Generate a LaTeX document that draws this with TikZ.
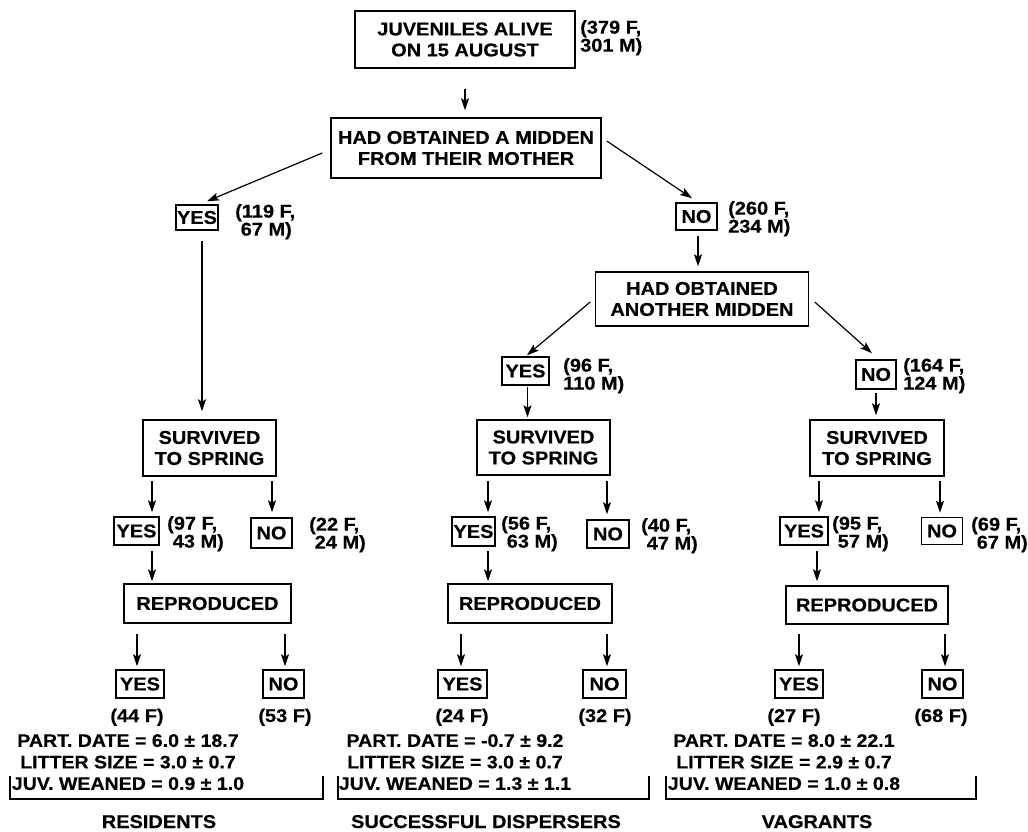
\documentclass[tikz,border=0pt]{standalone}
\usepackage{fontspec}
\setmainfont[FakeStretch=1.08, BoldFeatures={FakeBold=0.4}]{Liberation Sans}
\usetikzlibrary{arrows.meta,calc}
\tikzset{
  fnt/.style={font=\bfseries\fontsize{18.5}{21}\selectfont},
  box/.style={draw, line width=1.5pt, inner sep=0pt, align=center, fnt},
  cnt/.style={inner sep=0pt, align=left, anchor=north west, font=\bfseries\fontsize{18.5}{18}\selectfont},
  one/.style={inner sep=0pt, anchor=base, fnt},
  stats/.style={inner sep=0pt, anchor=north, align=center, font=\bfseries\fontsize{18.1}{21.5}\selectfont},
  arr/.style={-{Stealth[length=12pt,width=8pt,inset=2.5pt]}, line width=1.2pt},
  brk/.style={line width=1.4pt},
}
\begin{document}
\begin{tikzpicture}[x=1pt,y=-1pt]
\useasboundingbox (0,0) rectangle (1028,832);
% boxes
\node[box, minimum width=220pt, minimum height=57pt] (top) at (465,39.5) {JUVENILES ALIVE\\ON 15 AUGUST};
\node[box, minimum width=270pt, minimum height=60pt] (mother) at (466,148) {HAD OBTAINED A MIDDEN\\FROM THEIR MOTHER};
\node[box, minimum width=42pt, minimum height=25pt] (yes1) at (197,217.5) {YES};
\node[box, minimum width=41pt, minimum height=27pt] (no1) at (696.5,216.5) {NO};
\node[box, minimum width=213pt, minimum height=54pt] (another) at (702,299) {HAD OBTAINED\\ANOTHER MIDDEN};
\node[box, minimum width=47pt, minimum height=28pt] (yes2) at (525.5,371) {YES};
\node[box, minimum width=40pt, minimum height=29pt] (no2) at (876,374.5) {NO};
\node[box, minimum width=133pt, minimum height=56pt] (survL) at (209.5,448) {SURVIVED\\TO SPRING};
\node[box, minimum width=133pt, minimum height=55pt] (survM) at (543.5,447.5) {SURVIVED\\TO SPRING};
\node[box, minimum width=134pt, minimum height=56pt] (survR) at (877,448) {SURVIVED\\TO SPRING};
\node[box, minimum width=45pt, minimum height=28pt] (yesL) at (136.5,531) {YES};
\node[box, minimum width=41pt, minimum height=30pt] (noL) at (271.5,533) {NO};
\node[box, minimum width=43pt, minimum height=29pt] (yesM) at (473.5,531.5) {YES};
\node[box, minimum width=42pt, minimum height=28pt] (noM) at (608,534) {NO};
\node[box, minimum width=48pt, minimum height=28pt] (yesR) at (804,531) {YES};
\node[box, minimum width=41pt, minimum height=27pt] (noR) at (942,531) {NO};
\node[box, minimum width=167pt, minimum height=39pt] (repL) at (207.5,603.5) {REPRODUCED};
\node[box, minimum width=164pt, minimum height=39pt] (repM) at (530,603.5) {REPRODUCED};
\node[box, minimum width=162pt, minimum height=38pt] (repR) at (867,605) {REPRODUCED};
\node[box, minimum width=48pt, minimum height=28pt] (byL) at (140,684) {YES};
\node[box, minimum width=41pt, minimum height=28pt] (bnL) at (283.5,684) {NO};
\node[box, minimum width=49pt, minimum height=28pt] (byM) at (462.5,684) {YES};
\node[box, minimum width=43pt, minimum height=28pt] (bnM) at (604.5,684) {NO};
\node[box, minimum width=48pt, minimum height=28pt] (byR) at (799,684) {YES};
\node[box, minimum width=41pt, minimum height=28pt] (bnR) at (942.5,684) {NO};
% count labels
\node[cnt] (cTop) at (580,20) {(379 F,\\301 M)};
\node[cnt] (cYes1) at (235,204) {(119 F,\\\ 67 M)};
\node[cnt] (cNo1) at (728,201) {(260 F,\\234 M)};
\node[cnt] (cYes2) at (563,358) {(96 F,\\110 M)};
\node[cnt] (cNo2) at (903,358) {(164 F,\\124 M)};
\node[cnt] (cYesL) at (167,516) {(97 F,\\\ 43 M)};
\node[cnt] (cNoL) at (309,517) {(22 F,\\\ 24 M)};
\node[cnt] (cYesM) at (501,516) {(56 F,\\\ 63 M)};
\node[cnt] (cNoM) at (641,518) {(40 F,\\\ 47 M)};
\node[cnt] (cYesR) at (832,516) {(95 F,\\\ 57 M)};
\node[cnt] (cNoR) at (971,517) {(69 F,\\\ 67 M)};
\node[one] (nyL) at (137,722) {(44 F)};
\node[one] (nnL) at (285,722) {(53 F)};
\node[one] (nyM) at (462,722) {(24 F)};
\node[one] (nnM) at (605,722) {(32 F)};
\node[one] (nyR) at (794,722) {(27 F)};
\node[one] (nnR) at (941,722) {(68 F)};
% stats
\node[stats] (sL) at (128,734) {PART. DATE = 6.0 ± 18.7\\LITTER SIZE = 3.0 ± 0.7\\JUV. WEANED = 0.9 ± 1.0};
\node[stats] (sM) at (455,734) {PART. DATE = -0.7 ± 9.2\\LITTER SIZE = 3.0 ± 0.7\\JUV. WEANED = 1.3 ± 1.1};
\node[stats] (sR) at (784,734) {PART. DATE = 8.0 ± 22.1\\LITTER SIZE = 2.9 ± 0.7\\JUV. WEANED = 1.0 ± 0.8};
% brackets
\draw[brk] (10,776) |- (323,799) -- (323,776);
\draw[brk] (338,776) |- (649,799) -- (649,776);
\draw[brk] (666,776) |- (976,799) -- (976,776);
% group labels
\node[one] (gL) at (159,828) {RESIDENTS};
\node[one] (gM) at (486,828) {SUCCESSFUL DISPERSERS};
\node[one] (gR) at (817,828) {VAGRANTS};
% arrows
\draw[arr] ($(top.south)+(0,20)$) -- ($(mother.north)+(-1,-7)$);
\draw[arr] ($(mother.west)+(-8,5)$) -- ($(yes1.north)+(10,-3)$);
\draw[arr] ($(mother.east)+(5,-7)$) -- ($(no1.north)+(-4.5,-4)$);
\draw[arr] ($(yes1.south)+(5,10)$) -- ($(survL.north)+(-7.5,-8)$);
\draw[arr] ($(no1.south)+(1.5,5)$) -- ($(another.north)+(-4,-5)$);
\draw[arr] ($(another.west)+(-4.5,3)$) -- ($(yes2.north)+(1.5,-1)$);
\draw[arr] ($(another.east)+(5.5,3)$) -- ($(no2.north)+(-4,-6)$);
\draw[arr] ($(yes2.south)+(2,1)$) -- ($(survM.north)+(-16,-2)$);
\draw[arr] ($(no2.south)+(0,3)$) -- ($(survR.north)+(-1,-4)$);
\draw[arr] ($(survL.south)+(-57.5,4)$) -- ($(yesL.north)+(15.5,-4)$);
\draw[arr] ($(survL.south)+(62.5,4)$) -- ($(noL.north)+(0.5,-5)$);
\draw[arr] ($(survM.south)+(-55.5,5)$) -- ($(yesM.north)+(14.5,-4)$);
\draw[arr] ($(survM.south)+(63.5,5)$) -- ($(noM.north)+(-1,-5)$);
\draw[arr] ($(survR.south)+(-58,4)$) -- ($(yesR.north)+(15,-4)$);
\draw[arr] ($(survR.south)+(63,4)$) -- ($(noR.north)+(-2,-4)$);
\draw[arr] ($(yesL.south)+(15.5,5)$) -- ($(repL.north)+(-55.5,-2)$);
\draw[arr] ($(yesM.south)+(14.5,4)$) -- ($(repM.north)+(-42,-2)$);
\draw[arr] ($(yesR.south)+(13,5)$) -- ($(repR.north)+(-50,-4)$);
\draw[arr] ($(repL.south)+(-70.5,10)$) -- ($(byL.north)+(-3,-3)$);
\draw[arr] ($(repL.south)+(77.5,10)$) -- ($(bnL.north)+(1.5,-3)$);
\draw[arr] ($(repM.south)+(-69,10)$) -- ($(byM.north)+(-1.5,-3)$);
\draw[arr] ($(repM.south)+(77,10)$) -- ($(bnM.north)+(2.5,-3)$);
\draw[arr] ($(repR.south)+(-68,9)$) -- ($(byR.north)+(0,-3)$);
\draw[arr] ($(repR.south)+(78,9)$) -- ($(bnR.north)+(2.5,-3)$);
\end{tikzpicture}
\end{document}
